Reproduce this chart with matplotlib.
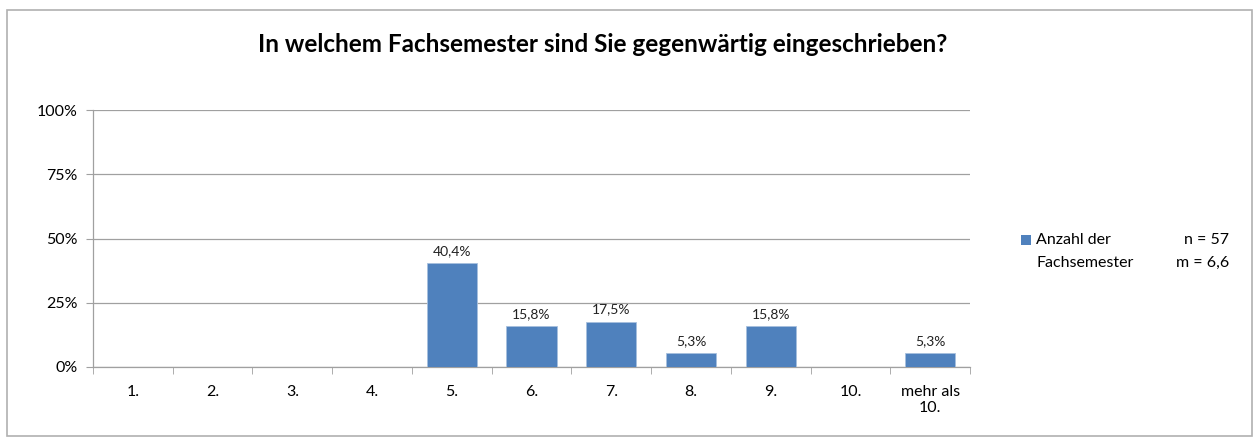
import matplotlib.pyplot as plt
import numpy as np
from matplotlib.patches import Rectangle

categories = ['1.', '2.', '3.', '4.', '5.', '6.', '7.', '8.', '9.', '10.', 'mehr als\n10.']
values = [0, 0, 0, 0, 40.4, 15.8, 17.5, 5.3, 15.8, 0, 5.3]
labels = ['', '', '', '', '40,4%', '15,8%', '17,5%', '5,3%', '15,8%', '', '5,3%']
yticks = [0, 25, 50, 75, 100]

plt.rcParams['font.family'] = ['Lato', 'DejaVu Sans']
blue = '#4F81BD'
grey = '#A0A0A0'

fig = plt.figure(figsize=(12.53, 4.37), dpi=100)
ax = fig.add_axes([93/1253, 1-367/437, 877/1253, 257/437])

x = np.arange(len(categories))
ax.bar(x, values, width=0.63, color=blue, edgecolor='#A7C0DE', linewidth=0.6, zorder=3)
for xi, v, lab in zip(x, values, labels):
    if lab:
        ax.text(xi, v + 2.5, lab, ha='center', va='bottom', fontsize=10, color='#222222')

ax.set_xlim(-0.5, len(categories) - 0.5)
ax.set_ylim(0, 100)
ax.set_yticks(yticks)
ax.set_yticklabels([f'{t}%' for t in yticks], fontsize=11.5)
ax.set_xticks(x)
ax.set_xticklabels(categories, fontsize=11.5, linespacing=1.15)
ax.set_xticks(np.arange(-0.5, len(categories)), minor=True)
ax.tick_params(axis='x', which='major', length=0, pad=13)
ax.tick_params(axis='x', which='minor', length=5, color=grey, direction='out')
ax.tick_params(axis='y', length=5, color=grey, pad=6)
ax.grid(axis='y', color=grey, linewidth=0.9, zorder=0)
for s in ['top', 'right']:
    ax.spines[s].set_visible(False)
for s in ['left', 'bottom']:
    ax.spines[s].set_color(grey)
    ax.spines[s].set_linewidth(0.9)

fig.text(603/1253, 1-45/437, 'In welchem Fachsemester sind Sie gegenwärtig eingeschrieben?',
         ha='center', va='center', fontsize=17.5, fontweight='bold')

# legend
fig.patches.append(Rectangle((1021/1253, 1-245/437), 10/1253, 10/437, transform=fig.transFigure,
                             facecolor=blue, edgecolor='none'))
fig.text(1036/1253, 1-240/437, 'Anzahl der', fontsize=11.5, va='center')
fig.text(1036/1253, 1-263/437, 'Fachsemester', fontsize=11.5, va='center')
fig.text(1229/1253, 1-240/437, 'n = 57', fontsize=11.5, va='center', ha='right')
fig.text(1229/1253, 1-263/437, 'm = 6,6', fontsize=11.5, va='center', ha='right')

# outer frame
fig.patches.append(Rectangle((6.5/1253, 1/437), 1245/1253, 426/437, transform=fig.transFigure,
                             facecolor='none', edgecolor='#B0B0B0', linewidth=1.2))

fig.savefig('out.png', dpi=100)
